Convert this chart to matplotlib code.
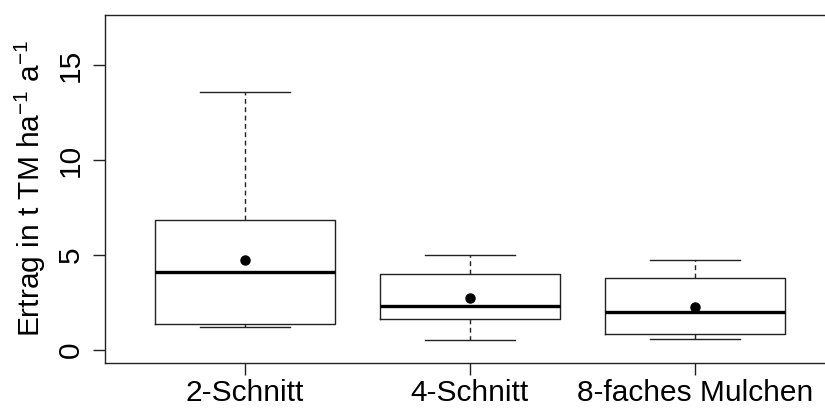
import matplotlib
matplotlib.use("Agg")
import matplotlib.pyplot as plt

plt.rcParams["font.family"] = ["Liberation Sans", "DejaVu Sans"]
plt.rcParams["mathtext.fontset"] = "custom"
plt.rcParams["mathtext.rm"] = "Liberation Sans"
plt.rcParams["mathtext.it"] = "Liberation Sans:italic"
plt.rcParams["mathtext.bf"] = "Liberation Sans:bold"

# --- data (t TM per ha and year) ---
categories = ["2-Schnitt", "4-Schnitt", "8-faches Mulchen"]
whisker_low = [1.19, 0.53, 0.59]
q1 = [1.38, 1.61, 0.84]
median = [4.12, 2.33, 1.98]
q3 = [6.86, 4.02, 3.80]
whisker_high = [13.61, 5.00, 4.72]
means = [4.75, 2.72, 2.26]

stats = []
for i, name in enumerate(categories):
    stats.append({
        "label": name,
        "whislo": whisker_low[i],
        "q1": q1[i],
        "med": median[i],
        "q3": q3[i],
        "whishi": whisker_high[i],
        "mean": means[i],
        "fliers": [],
    })

fig = plt.figure(figsize=(8.25, 4.08), dpi=100)
ax = fig.add_axes([0.1273, 0.111, 0.8846, 0.853])

ax.bxp(
    stats,
    positions=[1, 2, 3],
    widths=0.8,
    showmeans=True,
    boxprops=dict(color="#222222", linewidth=1.0),
    medianprops=dict(color="black", linewidth=2.4, solid_capstyle="butt"),
    whiskerprops=dict(color="#222222", linewidth=1.0, linestyle=(0, (3.5, 2.5))),
    capprops=dict(color="#222222", linewidth=1.0),
    meanprops=dict(marker="o", markerfacecolor="black", markeredgecolor="black",
                   markersize=6.5),
)

ax.set_xlim(0.38, 3.62)
ax.set_ylim(-0.68, 17.68)
ax.set_yticks([0, 5, 10, 15])
ax.set_xticks([1, 2, 3])
ax.set_xticklabels(categories, fontsize=21.5)
for lab in ax.get_yticklabels():
    lab.set_rotation(90)
    lab.set_va("center")
    lab.set_fontsize(21.5)

ax.tick_params(axis="both", direction="out", length=8.6, width=1.0, color="#222222")
ax.tick_params(axis="x", pad=3)
ax.tick_params(axis="y", pad=6)

for sp in ax.spines.values():
    sp.set_color("#222222")
    sp.set_linewidth(1.0)

ax.set_ylabel(r"Ertrag in t TM ha$^{-1}$ a$^{-1}$", fontsize=21.5, labelpad=6)

fig.savefig("out.png", dpi=100, facecolor="white")
